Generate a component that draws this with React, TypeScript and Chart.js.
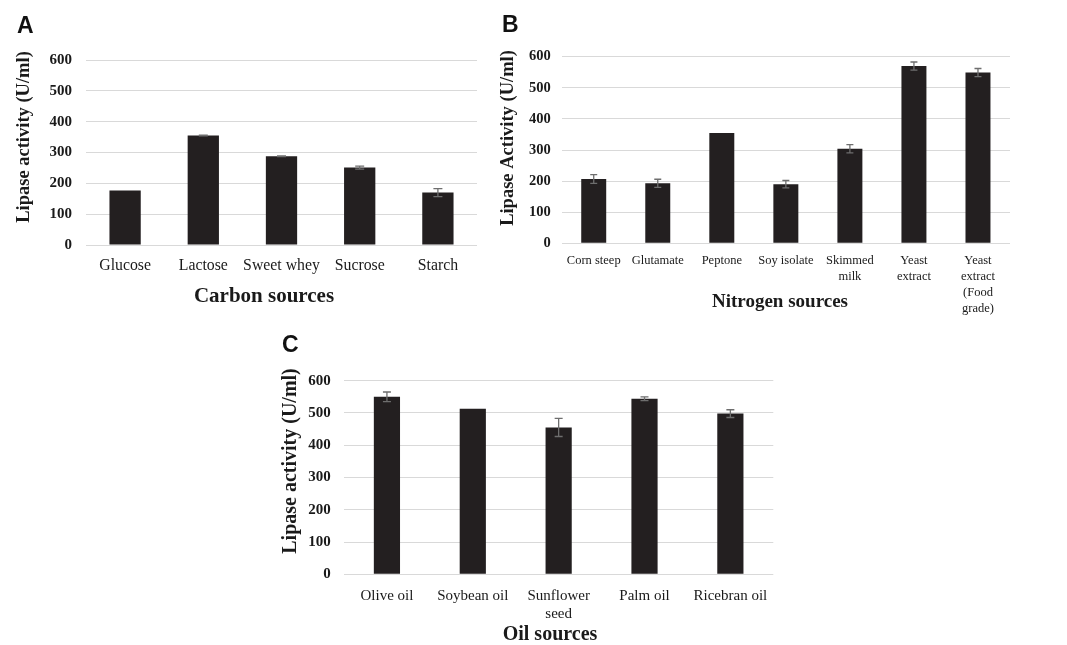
import React, { useEffect, useRef } from "react";
import { Chart, registerables } from "chart.js";

Chart.register(...registerables);

// ---------- data ----------
const carbonCategories = ["Glucose", "Lactose", "Sweet whey", "Sucrose", "Starch"];
const carbonValues = [177, 355, 288, 251, 170];
const carbonErrors = [0, 1, 1, 5, 13];

const nitrogenCategories = [
  ["Corn steep"],
  ["Glutamate"],
  ["Peptone"],
  ["Soy isolate"],
  ["Skimmed", "milk"],
  ["Yeast", "extract"],
  ["Yeast", "extract", "(Food", "grade)"],
];
const nitrogenValues = [207, 193, 355, 190, 304, 570, 549];
const nitrogenErrors = [14, 13, 0, 12, 13, 13, 13];

const oilCategories = ["Olive oil", "Soybean oil", ["Sunflower", "seed"], "Palm oil", "Ricebran oil"];
const oilValues = [550, 513, 455, 544, 498];
const oilErrors = [15, 0, 28, 6, 12];

const yMin = 0;
const yMax = 600;
const yStep = 100;

const panelLetters = ["A", "B", "C"];
const yTitles = ["Lipase activity (U/ml)", "Lipase Activity (U/ml)", "Lipase activity (U/ml)"];
const xTitles = ["Carbon sources", "Nitrogen sources", "Oil sources"];

// ---------- plugins ----------
const errorBarPlugin = {
  id: "errorBars",
  afterDatasetsDraw(chart: any, _args: any, opts: any) {
    const errs: number[] = opts && opts.errors;
    if (!errs) return;
    const meta = chart.getDatasetMeta(0);
    const yScale = chart.scales.y;
    const ctx = chart.ctx;
    const cap = opts.cap || 4;
    ctx.save();
    ctx.strokeStyle = "#6e6e6e";
    ctx.lineWidth = 1.3;
    meta.data.forEach((bar: any, i: number) => {
      const e = errs[i];
      if (!e) return;
      const v = chart.data.datasets[0].data[i];
      const x = bar.x;
      const yt = yScale.getPixelForValue(v + e);
      const yb = yScale.getPixelForValue(v - e);
      ctx.beginPath();
      ctx.moveTo(x, yt);
      ctx.lineTo(x, yb);
      ctx.moveTo(x - cap, yt);
      ctx.lineTo(x + cap, yt);
      ctx.moveTo(x - cap, yb);
      ctx.lineTo(x + cap, yb);
      ctx.stroke();
    });
    ctx.restore();
  },
};

const textPlugin = {
  id: "panelText",
  afterDraw(chart: any, _args: any, opts: any) {
    const items = (opts && opts.items) || [];
    const ctx = chart.ctx;
    items.forEach((it: any) => {
      ctx.save();
      ctx.font = it.font;
      ctx.fillStyle = it.color || "#111";
      ctx.textAlign = it.align || "center";
      ctx.textBaseline = it.baseline || "middle";
      ctx.translate(it.x, it.y);
      if (it.rotate) ctx.rotate(it.rotate);
      ctx.fillText(it.text, 0, 0);
      ctx.restore();
    });
  },
};

const SERIF = "'Liberation Serif', 'Times New Roman', serif";
const SANS = "'Liberation Sans', Arial, sans-serif";

type PanelProps = {
  left: number;
  top: number;
  width: number;
  height: number;
  labels: any[];
  values: number[];
  errors: number[];
  barPct: number;
  padTop: number;
  padRight: number;
  yWidth: number;
  xHeight: number;
  yTickSize: number;
  yTickPad: number;
  xTickSize: number;
  xTickLH: number;
  xTickPad: number;
  cap: number;
  items: any[];
};

function Panel(p: PanelProps) {
  const ref = useRef<HTMLCanvasElement | null>(null);
  useEffect(() => {
    if (!ref.current) return;
    const chart = new Chart(ref.current, {
      type: "bar",
      data: {
        labels: p.labels,
        datasets: [
          {
            data: p.values,
            backgroundColor: "#231f20",
            borderWidth: 0,
            barPercentage: p.barPct,
            categoryPercentage: 1,
          },
        ],
      },
      options: {
        responsive: false,
        animation: false,
        devicePixelRatio: 1,
        layout: { padding: { top: p.padTop, right: p.padRight, left: 0, bottom: 0 } },
        plugins: {
          legend: { display: false },
          tooltip: { enabled: false },
          errorBars: { errors: p.errors, cap: p.cap },
          panelText: { items: p.items },
        } as any,
        scales: {
          x: {
            grid: { display: false, drawTicks: false },
            border: { display: false },
            ticks: {
              color: "#1a1a1a",
              padding: p.xTickPad,
              maxRotation: 0,
              autoSkip: false,
              font: { family: SERIF, size: p.xTickSize, lineHeight: p.xTickLH },
            },
            afterFit: (s: any) => {
              s.height = p.xHeight;
            },
          },
          y: {
            min: yMin,
            max: yMax,
            ticks: {
              stepSize: yStep,
              color: "#1a1a1a",
              padding: p.yTickPad,
              font: { family: SERIF, size: p.yTickSize, weight: "bold" },
            },
            grid: { color: "#d9d9d9", lineWidth: 1, drawTicks: false },
            border: { display: false },
            afterFit: (s: any) => {
              s.width = p.yWidth;
            },
          },
        },
      } as any,
      plugins: [errorBarPlugin, textPlugin],
    });
    return () => chart.destroy();
  }, []);
  return (
    <canvas
      ref={ref}
      width={p.width}
      height={p.height}
      style={{ position: "absolute", left: p.left, top: p.top, width: p.width, height: p.height }}
    />
  );
}

function items(letterIdx: number, yt: [number, number, number], xt: [number, number, number], letterPos: [number, number]) {
  return [
    { text: panelLetters[letterIdx], x: letterPos[0], y: letterPos[1], font: `bold 23px ${SANS}`, align: "left", baseline: "alphabetic", color: "#111" },
    { text: yTitles[letterIdx], x: yt[0], y: yt[1], font: `bold ${yt[2]}px ${SERIF}`, rotate: -Math.PI / 2, color: "#1a1a1a" },
    { text: xTitles[letterIdx], x: xt[0], y: xt[1], font: `bold ${xt[2]}px ${SERIF}`, color: "#1a1a1a" },
  ];
}

export default function App() {
  return (
    <div style={{ position: "absolute", left: 0, top: 0, width: 1067, height: 645, background: "#fff", overflow: "hidden" }}>
      <Panel
        left={0}
        top={0}
        width={490}
        height={320}
        labels={carbonCategories}
        values={carbonValues}
        errors={carbonErrors}
        barPct={0.4}
        padTop={60}
        padRight={13}
        yWidth={86}
        xHeight={75}
        yTickSize={15}
        yTickPad={14}
        xTickSize={15.8}
        xTickLH={1.2}
        xTickPad={11.5}
        cap={4.5}
        items={items(0, [24, 137, 18.5], [264, 297, 21], [17, 33])}
      />
      <Panel
        left={490}
        top={0}
        width={577}
        height={320}
        labels={nitrogenCategories}
        values={nitrogenValues}
        errors={nitrogenErrors}
        barPct={0.39}
        padTop={56.7}
        padRight={57}
        yWidth={71.7}
        xHeight={76.7}
        yTickSize={14.5}
        yTickPad={11}
        xTickSize={12.5}
        xTickLH={1.28}
        xTickPad={9.5}
        cap={3.5}
        items={items(1, [18, 138, 18.5], [290, 302, 19], [12, 32])}
      />
      <Panel
        left={270}
        top={320}
        width={550}
        height={325}
        labels={oilCategories}
        values={oilValues}
        errors={oilErrors}
        barPct={0.305}
        padTop={60.7}
        padRight={46.7}
        yWidth={74}
        xHeight={70.7}
        yTickSize={15}
        yTickPad={13.3}
        xTickSize={15}
        xTickLH={1.2}
        xTickPad={12.5}
        cap={4}
        items={items(2, [21, 141, 20], [280, 315, 20], [12, 32])}
      />
    </div>
  );
}
